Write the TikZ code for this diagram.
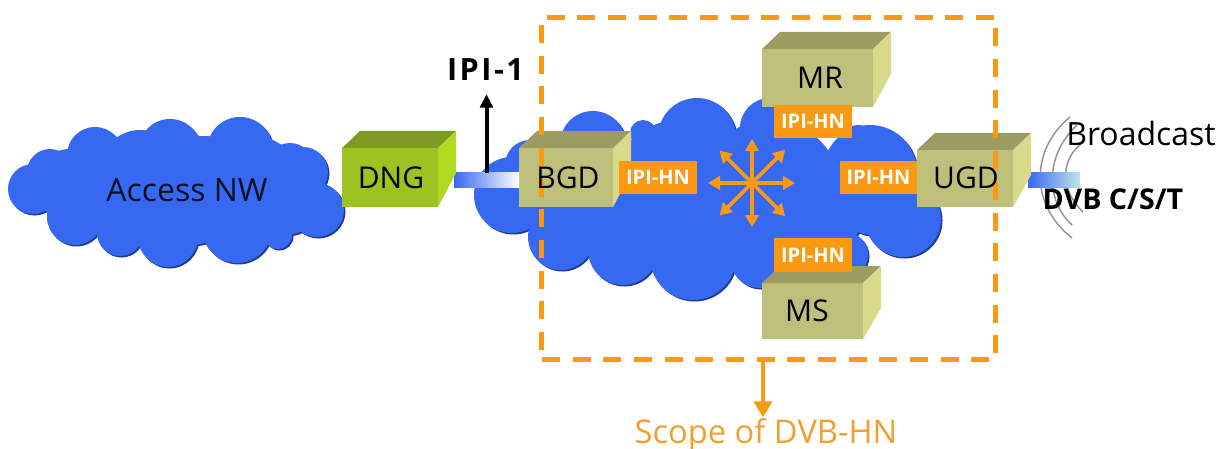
\documentclass[tikz,border=0pt]{standalone}
\usepackage{fontspec}
\setmainfont{Open Sans}
\newfontfamily\spacedfont[LetterSpace=8]{Open Sans}
\usetikzlibrary{positioning, calc, arrows.meta}
\pgfdeclarelayer{foreground}
\pgfsetlayers{main,foreground}
\definecolor{netblue}{HTML}{3768F2}
\definecolor{netshadow}{HTML}{1D3A94}
\definecolor{hnorange}{HTML}{FB9A12}
\definecolor{scopetext}{HTML}{F0A030}
\definecolor{khaki1}{HTML}{BFBF7C}
\definecolor{khaki2}{HTML}{9C9C62}
\definecolor{khaki3}{HTML}{D9D98C}
\definecolor{green1}{HTML}{9CC322}
\definecolor{green2}{HTML}{7F9A22}
\definecolor{green3}{HTML}{AEDB22}
\tikzset{hntip/.tip={Triangle[length=9pt, width=10pt]}}
\tikzset{
    boxsize/.style 2 args={minimum width=#1*0.75pt, minimum height=#2*0.75pt},
    box/.style={inner sep=0pt, outer sep=0pt},
    boxtext/.style={inner sep=0pt, text=black, font=\fontsize{22.5}{26}\selectfont},
    hnlabel/.style={fill=hnorange, text=white, inner sep=0pt, minimum width=58pt, minimum height=25pt, font=\fontsize{15}{18}\selectfont\bfseries},
    wave/.style={draw=gray!85, line width=1.1pt}
}
% faces of a box: name, top colour, side colour
\newcommand{\boxfaces}[3]{
    \fill[#2] (#1.north west) -- ++(18,-17) -- ($(#1.north east)+(18,-17)$) -- (#1.north east) -- cycle;
    \fill[#3] (#1.north east) -- ++(18,-17) -- ++(0,42) -- (#1.south east) -- cycle;
}
\begin{document}
\begin{tikzpicture}[
    x=0.75pt,
    y=-0.75pt,
    >={Stealth[round]}
]
\useasboundingbox (0,0) rectangle (1220,449);

% clouds
\foreach \c/\d in {netshadow/1.5, netblue/0}
{
    \foreach \x/\y/\r in {33/189/25, 50/172/23, 95/155/28, 133/143/10, 170/150/31, 240/150/33, 290/167/24, 303/172/25, 317/210/27, 278/235/14, 237/228/35, 168/237/30, 120/233/23, 75/217/28, 70/185/36, 110/180/40, 140/170/40, 190/190/55, 250/190/55, 285/195/40, 140/205/40, 205/172/36, 260/215/30}
    {
        \fill[\c] (\x + \d, \y + \d) circle (\r);
    }
    \foreach \x/\y/\r in {512/195/38, 530/165/25, 593/144/33, 643/133/13, 697/137/39, 770/128/30, 858/140/15, 870/172/47, 903/219/38, 845/255/23, 693/257/43, 623/250/35, 561/237/33, 760/258/30, 600/190/50, 680/190/70, 770/190/70, 825/210/40, 870/210/25}
    {
        \fill[\c] (\x + \d, \y + \d) circle (\r);
    }
}
\node[inner sep=0pt, text=black!85!netblue, font=\fontsize{24}{28}\selectfont] (access) at (187,190) {Access NW};

% broadcast waves
\draw[wave] (1070,117) .. controls (1030,150) and (1030,205) .. (1072,238);
\draw[wave] (1077,125) .. controls (1045,155) and (1045,200) .. (1072,225);
\draw[wave] (1082,143) .. controls (1060,160) and (1060,190) .. (1083,212);

% boxes
\node[box, boxsize={96}{59}, fill=green1] (DNG) at (390,177.5) {};
\node[box, boxsize={94}{59}, fill=khaki1] (BGD) at (566,177.5) {};
\node[box, boxsize={111}{58}, fill=khaki1] (MR) at (817.5,78) {};
\node[box, boxsize={96}{57}, fill=khaki1] (UGD) at (965,178.5) {};
\node[box, boxsize={101}{56}, fill=khaki1] (MS) at (812.5,311) {};

% links
\coordinate (dngout) at ($(DNG.east)+(16,-4.5)$);
\coordinate (bgdin) at ($(BGD.west)+(0,9.5)$);
\coordinate (ugdout) at ($(UGD.east)+(15,-5.5)$);
\coordinate (bcastend) at ($(UGD.east)+(67,8.5)$);
\shade[left color=netblue, middle color=white!92!netblue, right color=white] (dngout) rectangle (bgdin);
\shade[left color=netblue, right color=cyan!40!gray!35] (ugdout) rectangle (bcastend);

\boxfaces{DNG}{green2}{green3}
\boxfaces{BGD}{khaki2}{khaki3}
\boxfaces{MR}{khaki2}{khaki3}
\boxfaces{UGD}{khaki2}{khaki3}
\boxfaces{MS}{khaki2}{khaki3}

% interfaces
\node[hnlabel] (hntop) at (813,121.5) {IPI-HN};
\node[hnlabel] (hnleft) at (658,177.5) {IPI-HN};
\node[hnlabel] (hnright) at (878.5,177.5) {IPI-HN};
\node[hnlabel] (hnbottom) at (813,255) {IPI-HN};

% star
\coordinate (star) at (752,183);
\foreach \a/\l in {0/43, 45/47, 90/44, 135/46, 180/44, 225/46, 270/44, 315/47}
{
    \draw[-hntip, draw=hnorange, fill=hnorange, line width=2.7pt] (star) -- ++(\a:\l);
}

% upper interface
\node[inner sep=0pt, font=\spacedfont\fontsize{23}{26}\selectfont\bfseries] (ipi) at (485.5,70) {IPI-1};
\coordinate (linktop) at ($(dngout)!0.5!(bgdin |- dngout)$);
\draw[-{Triangle[length=10pt, width=9.5pt]}, line width=3pt] (linktop) -- ($(linktop |- ipi.south)+(0,13)$);

% scope
\node[draw=hnorange, line width=3.8pt, dash pattern=on 13.5pt off 9.5pt, minimum width=340pt, minimum height=257pt, inner sep=0pt] (scopebox) at (768.5,188.5) {};
\node[text=scopetext, inner sep=0pt, font=\fontsize{24.5}{28}\selectfont] (scope) at (766,435) {Scope of DVB-HN};
\coordinate (scopetail) at ($(scopebox.south)+(-5.5,0)$);
\draw[-{Triangle[length=12pt, width=13.5pt]}, draw=hnorange, fill=hnorange, line width=3.4pt] (scopetail) -- ++(0,55);

% box texts
\begin{pgfonlayer}{foreground}
\node[boxtext] (DNGtext) at (391,178) {DNG};
\node[boxtext] (BGDtext) at (568,178) {BGD};
\node[boxtext] (MRtext) at (820,78) {MR};
\node[boxtext] (UGDtext) at (966,178) {UGD};
\node[boxtext] (MStext) at (807,311) {MS};
\node[inner sep=0pt, font=\fontsize{24}{28}\selectfont] (bcast) at (1141,134) {Broadcast};
\node[inner sep=0pt, font=\fontsize{21.5}{25}\selectfont\bfseries] (dvb) at (1113,199) {DVB C/S/T};
\end{pgfonlayer}

\end{tikzpicture}
\end{document}
